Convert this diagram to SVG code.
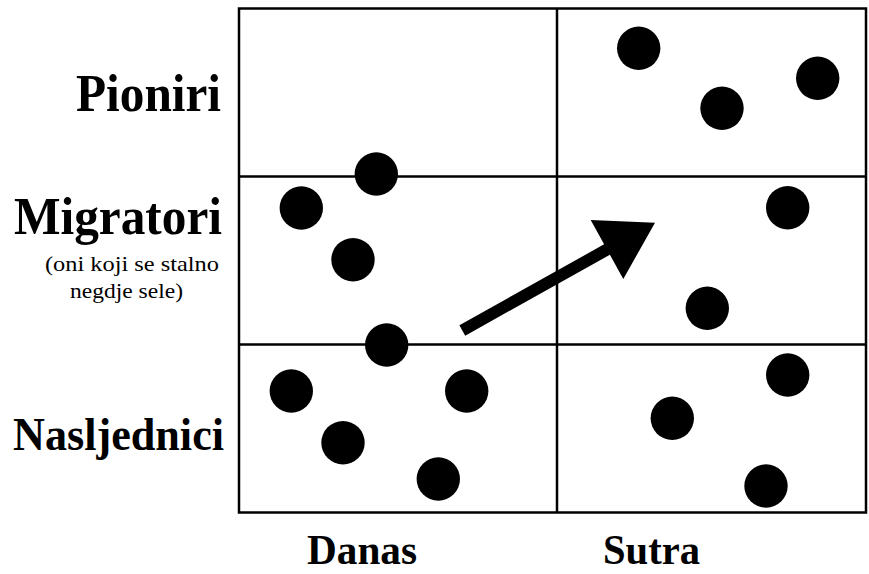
<svg xmlns="http://www.w3.org/2000/svg" width="869" height="574" viewBox="0 0 869 574">
<style>
.grid{fill:none;stroke:#000;stroke-width:2.5}
.dot{fill:#000}
.lbl{font-family:"Liberation Serif","Times New Roman",serif;font-weight:bold;fill:#000}
.sub{font-family:"Liberation Serif","Times New Roman",serif;fill:#000;font-size:22px}
</style>
<rect width="869" height="574" fill="#fff"/>
<g id="grid">
<rect class="grid" x="239" y="8.5" width="627" height="504"/>
<line class="grid" x1="557" y1="8.5" x2="557" y2="512.5"/>
<line class="grid" x1="239" y1="176.5" x2="866" y2="176.5"/>
<line class="grid" x1="239" y1="344.5" x2="866" y2="344.5"/>
</g>
<g id="labels">
<text class="lbl" x="76" y="111" font-size="52" textLength="145" lengthAdjust="spacingAndGlyphs">Pioniri</text>
<text class="lbl" x="14" y="234" font-size="52" textLength="208" lengthAdjust="spacingAndGlyphs">Migratori</text>
<text class="sub" x="45" y="271" textLength="174" lengthAdjust="spacingAndGlyphs">(oni koji se stalno</text>
<text class="sub" x="70" y="298" textLength="113" lengthAdjust="spacingAndGlyphs">negdje sele)</text>
<text class="lbl" x="13" y="450" font-size="47" textLength="211" lengthAdjust="spacingAndGlyphs">Nasljednici</text>
<text class="lbl" x="307" y="564" font-size="43" textLength="110" lengthAdjust="spacingAndGlyphs">Danas</text>
<text class="lbl" x="603" y="564" font-size="43" textLength="97" lengthAdjust="spacingAndGlyphs">Sutra</text>
</g>
<g id="dots-danas">
<circle class="dot" cx="376.3" cy="174" r="21.7"/>
<circle class="dot" cx="301.3" cy="208" r="21.7"/>
<circle class="dot" cx="353" cy="259.7" r="21.7"/>
<circle class="dot" cx="386.7" cy="345" r="21.7"/>
<circle class="dot" cx="291.3" cy="391" r="21.7"/>
<circle class="dot" cx="466.7" cy="391" r="21.7"/>
<circle class="dot" cx="343" cy="442.7" r="21.7"/>
<circle class="dot" cx="438.3" cy="479" r="21.7"/>
</g>
<g id="dots-sutra">
<circle class="dot" cx="638.7" cy="48.3" r="21.7"/>
<circle class="dot" cx="722" cy="108.3" r="21.7"/>
<circle class="dot" cx="817.7" cy="78.3" r="21.7"/>
<circle class="dot" cx="787.7" cy="207.7" r="21.7"/>
<circle class="dot" cx="707.3" cy="308.3" r="21.7"/>
<circle class="dot" cx="787.7" cy="375" r="21.7"/>
<circle class="dot" cx="672.3" cy="418.3" r="21.7"/>
<circle class="dot" cx="766" cy="486" r="21.7"/>
</g>
<g id="connectors">
<polygon fill="#000" points="459.4,325.3 604.1,244.3 590.7,220 655,222.7 623.3,279 609.9,254.7 465.2,335.7"/>
</g>
</svg>
